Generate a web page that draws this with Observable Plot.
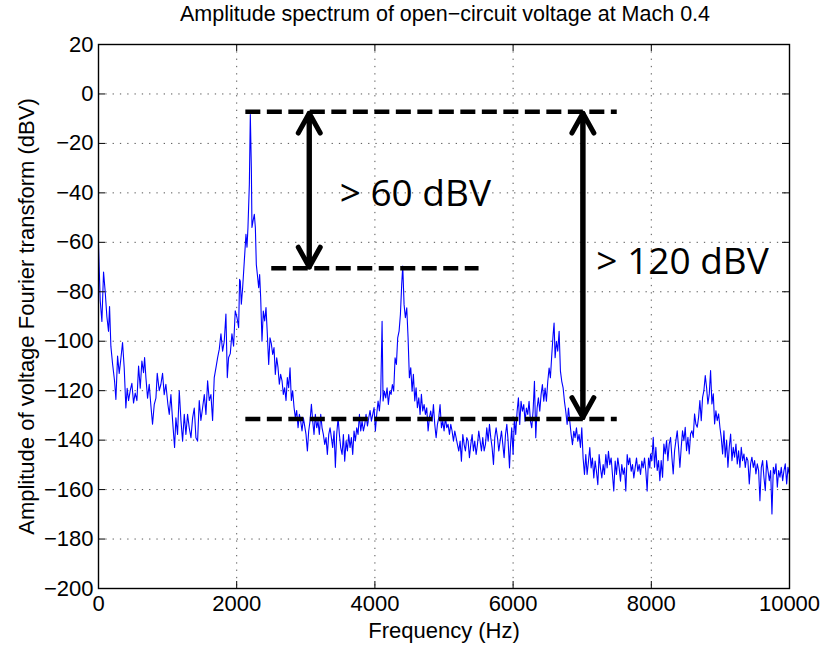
<!DOCTYPE html>
<html><head><meta charset="utf-8">
<script src="https://cdn.jsdelivr.net/npm/d3@7"></script>
<script src="https://cdn.jsdelivr.net/npm/@observablehq/plot@0.6"></script>
<style>body{margin:0;background:#fff;} svg{display:block;}</style>
</head><body><div id="chart"></div>
<script>
// ---- Data ----
const freqHz = [
0,25,49,73,97,121,145,160,179,203,232,252,276,300,324,348,372,396,415,435,459,483,507,531,556,580,604,628,652,667,686,710,734,758,782,807,831,850,879,903,927,951,975,1004,1024,1048,1072,1101,1120,1144,1169,1193,1217,1241,1265,1289,1313,1338,1362,1386,1410,1434,1458,1482,1506,1531,1555,1579,1603,1627,1651,1675,1700,1724,1748,1772,1796,1820,1844,1864,1883,1907,1931,1955,1979,2004,2028,2042,
2052,2067,2086,2110,2134,2149,2163,2183,2197,2212,2221,2236,2255,2270,2284,2299,2318,2332,2347,2366,2385,2405,2424,2443,2463,2482,2501,2521,2540,2559,2579,2598,2617,2636,2656,2675,2694,2714,2733,2752,2772,2791,2810,2830,2849,2868,2888,2907,2926,2945,2965,2984,3003,3023,3042,3061,3081,3100,3119,3138,3158,3177,3196,3216,3235,3254,3274,3293,3312,3332,3351,3370,3389,3409,3428,3447,3467,3486,3505,3525,3544,3563,3583,3602,3621,3640,3660,3679,3698,3718,3737,3756,3776,3795,3814,3834,3853,3872,3892,3911,3930,3949,3969,3988,
4007,4026,4046,4065,4084,4104,4118,4137,4157,4176,4195,4215,4234,4253,4272,4292,4311,4330,4350,4369,4388,4403,4422,4441,4461,4480,4499,4519,4538,4557,4577,4596,4615,4635,4654,4673,4692,4712,4731,4750,4770,4789,4808,4828,4847,4866,4886,4905,4924,4943,4963,4982,5001,5021,5040,5059,5079,5098,5117,5137,5156,5175,5194,5214,5233,5252,5272,5291,5310,5330,5349,5368,5388,5407,5426,5445,5465,5484,5503,5523,5542,5561,5581,5600,5619,5639,5658,5677,5696,5716,5735,5754,5774,5793,5812,5832,5851,5870,5890,5909,5928,5948,
5961,5980,6000,6019,6038,6058,6077,6096,6115,6135,6154,6173,6193,6212,6231,6251,6270,6289,6309,6328,6347,6366,6386,6405,6424,6444,6463,6482,6502,6521,6540,6560,6579,6593,6608,6627,6646,6666,6685,6704,6724,6743,6762,6782,6801,6820,6840,6859,6878,6897,6917,6936,6955,6975,6994,7013,7033,7052,7071,7091,7110,7129,7148,7168,7187,7206,7226,7245,7264,7284,7303,7322,7342,7361,7380,7399,7419,7438,7457,7477,7496,7515,7535,7554,7573,7593,7612,7631,7651,7670,7689,7709,7728,7747,7766,7786,7805,7824,7844,7863,7882,7902,7921,7940,7960,7979,
7989,8008,8028,8047,8066,8086,8105,8124,8143,8163,8182,8201,8221,8240,8259,8279,8298,8317,8337,8356,8375,8394,8414,8433,8452,8472,8491,8510,8530,8549,8568,8588,8607,8626,8645,8665,8684,8703,8723,8742,8761,8781,8800,8819,8839,8858,8877,8897,8916,8935,8954,8974,8993,9012,9032,9051,9070,9090,9109,9128,9148,9167,9186,9205,9225,9244,9263,9283,9302,9321,9341,9360,9379,9398,9418,9437,9456,9476,9495,9514,9534,9553,9572,9592,9611,9630,9650,9669,9688,9708,9727,9746,9766,9785,9804,9824,9843,9862,9881,9901,9920,9939,9959,9978,9997
];
const ampDbv = [
-61,-83.6,-92,-72,-80,-90,-96,-86,-102,-109,-116,-123.5,-106,-113,-107,-100.5,-110.7,-127,-119,-124,-120,-117,-125,-121,-124,-110,-119,-108,-112.7,-106.6,-114.7,-123,-117.4,-126,-133.6,-125.5,-123,-113,-120,-117.4,-113,-121.6,-117.4,-125.5,-129.6,-121.6,-132,-143,-131,-137.7,-120,-132,-140.4,-129.6,-137.7,-129.6,-135,-139,-131,-127,-139,-140.4,-124,-132,-127,-121.6,-129.6,-116,-124,-121.6,-132,-114.7,-110.7,-106.6,-103.2,-97,-104,-100,-89,-114.7,-106.6,-105,-97,-102,-87.7,-90.4,-94.5,-75,
-75.7,-85,-78.4,-67.6,-56.8,-62,-54,-36.6,-8.3,-29.8,-54,-51.4,-48.7,-54,-69,-73,-78.4,-73,-82.4,-100,-87.8,-91.8,-86.4,-97,-109.4,-98.6,-101,-105.3,-102.6,-113.4,-106.7,-110.7,-117.4,-113.4,-116,-121.5,-118.8,-124,-114.7,-118.8,-110.7,-124,-120,-126.8,-131,-128,-135,-129.6,-132.3,-136.3,-131,-134.3,-137.7,-144.4,-136.3,-132.3,-125.5,-132.3,-137.7,-129.6,-135,-132.3,-137.7,-129.6,-135,-137.7,-141.7,-139,-145.8,-137.7,-135,-139,-143,-136.3,-151,-137.7,-131,-137.7,-143,-145.8,-137.7,-148.5,-140.3,-144.4,-137.7,-143,-139,-145.8,-136.3,-140.3,-135,-137.7,-129.6,-136.3,-132.3,-136.3,-133.6,-129.6,-134.3,-131,-128,-132.3,-129.6,-126.8,
-136.3,-129.6,-124.2,-128.2,-121.5,-91.9,-124.2,-120.2,-122.9,-118.8,-125.6,-120.2,-121.5,-117.5,-120.2,-106.7,-109.4,-98.6,-95.9,-89.2,-77,-69.6,-85.1,-90.5,-86.5,-98.6,-114.8,-110.7,-120.2,-113.4,-124.2,-118.8,-126.9,-122.9,-129.6,-121.5,-128.2,-125.6,-129.6,-126.9,-136.3,-130.9,-128.2,-132.3,-125.6,-133.6,-139,-133.6,-130.9,-125.6,-135,-132.3,-136.3,-130.9,-135,-133.6,-137.7,-133.6,-136.3,-140.4,-136.3,-139,-141.7,-144.4,-140.4,-148.5,-137.7,-141.7,-144.4,-139,-140.4,-147.1,-141.7,-137.7,-144.4,-140.4,-145.8,-141.7,-136.3,-140.4,-144.4,-139,-144.4,-141.7,-135,-140.4,-133.6,-139,-143,-149.8,-139,-135,-139,-144.4,-140.4,-136.3,-141.7,-147.1,-137.7,-133.6,-140.4,-151.2,
-143,-135,-145.8,-131,-137.7,-128.3,-122.9,-133.7,-124.3,-128.3,-125.6,-132.3,-127,-129.6,-124.3,-132.3,-135,-128.3,-116.2,-139,-127,-122.9,-128.3,-121.6,-117.5,-124.3,-118.9,-124.3,-116.2,-110.8,-114.8,-105.4,-97.3,-92.6,-106.7,-100,-104,-96,-112.1,-116.2,-118.9,-124.3,-128.3,-133.7,-127,-132.3,-137.7,-141.8,-136.4,-139,-135,-140.4,-137.7,-143,-135,-147.2,-153.9,-145.8,-153.9,-148.5,-143,-151.2,-147.2,-155.3,-148.5,-152.6,-158,-145.8,-151.2,-155.3,-149.9,-153.9,-145.8,-151.2,-144.5,-149.9,-147.2,-153.9,-160.6,-148.5,-153.9,-147.2,-151.2,-156.6,-149.9,-153.9,-151.2,-160.6,-145.8,-149.9,-147.2,-152.6,-149.9,-155.3,-151.2,-147.2,-152.6,-149.9,-153.9,-148.5,-151.2,-147.2,-152.6,-160.6,-147.2,-151.2,
-145.6,-148.3,-138.9,-151,-142.9,-152.3,-148.3,-156.4,-148.3,-155,-141.6,-145.6,-140.2,-148.3,-141.6,-138.9,-146.9,-153.7,-144.3,-140.2,-136.2,-142.9,-151,-142.9,-136.2,-140.2,-134.8,-144.3,-138.9,-145.6,-137.5,-136.2,-138.9,-129.4,-133.5,-134.8,-130.8,-124,-132.1,-122.7,-120,-113.9,-118.7,-125.4,-121.3,-111.9,-125.4,-121.3,-133.5,-128.1,-132.1,-129.4,-134.8,-138.9,-145.6,-136.2,-146.9,-140.2,-151,-142.9,-137.5,-148.3,-142.9,-146.9,-141.6,-149.6,-144.3,-151,-142.9,-148.3,-145.6,-151,-146.9,-148.3,-157.7,-149.6,-146.9,-151,-148.3,-153.7,-149.6,-152.3,-164.5,-151,-148.3,-155,-160.4,-148.3,-152.3,-156.4,-152.3,-169.9,-151,-153.7,-149.6,-159,-152.3,-155,-151,-156.4,-152.3,-149.6,-157.7,-151,-153.7
];
const xTicks = [0, 2000, 4000, 6000, 8000, 10000];
const yTicks = [-200, -180, -160, -140, -120, -100, -80, -60, -40, -20, 0, 20];
const titleText = "Amplitude spectrum of open\u2212circuit voltage at Mach 0.4";
const xLabelText = "Frequency (Hz)";
const yLabelText = "Amplitude of voltage Fourier transform (dBV)";

// annotation: dashed reference levels
const refLevel = [-7.2, -70.5, -131.5];
const refStart = [2125, 2500, 2125];
const refEnd = [7500, 5500, 7500];
// annotation: double arrows
const arrowX = [3050, 7010];
const arrowTop = [-7.8, -7.8];
const arrowBottom = [-70, -130.8];
// annotation: notes
const noteText = ["> 60 dBV", "> 120 dBV"];
const noteX = [3490, 7205];
const noteY = [-40.7, -68];

// ---- build tables ----
const spectrum = freqHz.map((f, i) => ({f, a: ampDbv[i]}));
const refs = refLevel.map((y, i) => ({y, x1: refStart[i], x2: refEnd[i]}));
const arrows = arrowX.map((x, i) => ({x, top: arrowTop[i], bottom: arrowBottom[i]}));
const notes = noteText.map((t, i) => ({t, x: noteX[i], y: noteY[i]}));

const W = 823, H = 645, mL = 98, mR = 34, mT = 44, mB = 57;
const fw = W - mL - mR, fh = H - mT - mB;
const font = "'Liberation Sans', Arial, Helvetica, sans-serif";
const fmt = d => d < 0 ? "\u2212" + Math.abs(d) : String(d);

const chart = Plot.plot({
  width: W, height: H,
  marginLeft: mL, marginRight: mR, marginTop: mT, marginBottom: mB,
  style: {fontFamily: font, fontSize: "22px", color: "black", background: "white"},
  x: {domain: [0, 10000]},
  y: {domain: [-200, 20]},
  marks: [
    Plot.ruleX(xTicks.slice(1, -1), {stroke: "#555", strokeWidth: 1, strokeDasharray: "1.3,6"}),
    Plot.ruleY(yTicks.slice(1, -1), {stroke: "#555", strokeWidth: 1, strokeDasharray: "1.3,6"}),
    Plot.line(spectrum, {x: "f", y: "a", stroke: "#0000ff", strokeWidth: 1.1}),
    Plot.link(refs, {x1: "x1", x2: "x2", y1: "y", y2: "y", stroke: "black", strokeWidth: 4.5, strokeDasharray: "15,6.5"}),
    Plot.arrow(arrows, {x1: "x", x2: "x", y1: "bottom", y2: "top", stroke: "black", strokeWidth: 5, headLength: 6.8, headAngle: 58}),
    Plot.arrow(arrows, {x1: "x", x2: "x", y1: "top", y2: "bottom", stroke: "black", strokeWidth: 5, headLength: 6.8, headAngle: 58}),
    Plot.text(notes, {x: "x", y: "y", text: "t", textAnchor: "start", lineAnchor: "middle", fontSize: 37, fontFamily: "'Open Sans', sans-serif", fill: "black"}),
    Plot.frame({stroke: "black", strokeWidth: 1.4}),
    Plot.tickY(yTicks, {y: d => d, insetRight: fw - 7, stroke: "black"}),
    Plot.tickY(yTicks, {y: d => d, insetLeft: fw - 7, stroke: "black"}),
    Plot.tickX(xTicks, {x: d => d, insetTop: fh - 7, stroke: "black"}),
    Plot.tickX(xTicks, {x: d => d, insetBottom: fh - 7, stroke: "black"}),
    Plot.axisX(xTicks, {tickSize: 0, tickPadding: 7, tickFormat: fmt, label: null, fontSize: 22}),
    Plot.axisY(yTicks, {tickSize: 0, tickPadding: 5, tickFormat: fmt, label: null, fontSize: 22}),
    Plot.text([titleText], {text: d => d, frameAnchor: "top", textAnchor: "middle", lineAnchor: "middle", dy: -30, dx: 1, fontSize: 21.5}),
    Plot.text([xLabelText], {text: d => d, frameAnchor: "bottom", textAnchor: "middle", lineAnchor: "middle", dy: 42, fontSize: 22}),
    Plot.text([yLabelText], {text: d => d, frameAnchor: "left", textAnchor: "middle", lineAnchor: "middle", rotate: -90, dx: -72, fontSize: 22})
  ]
});
document.getElementById("chart").append(chart);
</script>
</body></html>
